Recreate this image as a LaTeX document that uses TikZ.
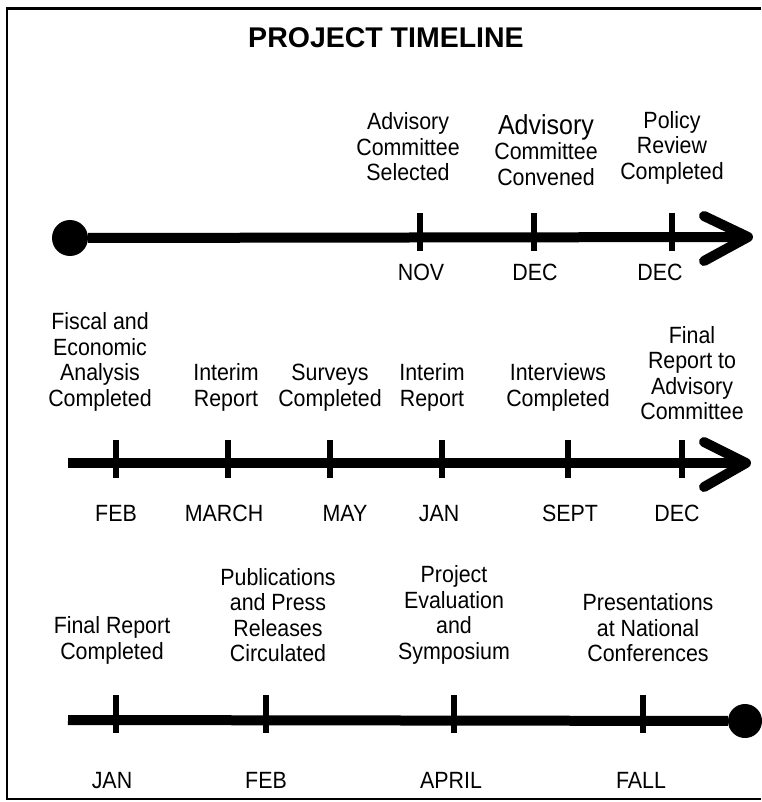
\documentclass[tikz,border=0pt]{standalone}
\usepackage{fontspec}
\setmainfont{Liberation Sans}
\newfontfamily\narrowfont[FakeStretch=0.91]{Liberation Sans}

\begin{document}
\begin{tikzpicture}[x=1pt, y=-1pt,
    event/.style={align=center, inner sep=0pt, font=\narrowfont\fontsize{23.5}{25.5}\selectfont},
    month/.style={inner sep=0pt, text height=16.8pt, text depth=0pt, font=\narrowfont\fontsize{23.5}{25.5}\selectfont},
    axis/.style={line width=10pt},
    tick/.style={line width=5.5pt},
    chevron/.style={line width=10pt, line cap=round, line join=round},
    dot/.style={circle, fill, inner sep=0pt, minimum size=36pt}]
    \useasboundingbox (0,0) rectangle (761,802);
    \draw[line width=2.5pt] (761,8.5) -- (7,8.5) -- (7,799) -- (761,799);

    \node[font=\bfseries\fontsize{28.5}{32}\selectfont] (title) at (386,38) {PROJECT TIMELINE};

    \node[dot] (s1) at (70,238) {};
    \coordinate (e1) at (748,237);
    \draw[axis] (s1) -- (e1);
    \draw[chevron] (e1) ++(-44,-21) -- (e1) -- +(-44,24);
    \foreach \x in {420,534,672}
        \draw[tick] (\x,213) -- (\x,251);
    \node[event] (selected) at (408,147) {Advisory\\Committee\\Selected};
    \node[event] (convened) at (546,150) {{\fontsize{27.5}{29}\selectfont Advisory}\\Committee\\Convened};
    \node[event] (policy) at (672,147.5) {Policy\\Review\\Completed};
    \node[month] (nov) at (421,272) {NOV};
    \node[month] (dec1) at (535,272) {DEC};
    \node[month] (dec2) at (660,272) {DEC};

    \coordinate (s2) at (68,463);
    \coordinate (e2) at (746,463);
    \draw[axis] (s2) -- (e2);
    \draw[chevron] (e2) ++(-42,-21) -- (e2) -- +(-42,24);
    \foreach \x in {116,228,330,442,568,682}
        \draw[tick] (\x,440) -- (\x,478);
    \node[event] (fiscal) at (100,362) {Fiscal and\\Economic\\Analysis\\Completed};
    \node[event] (interim1) at (226,387.5) {Interim\\Report};
    \node[event] (surveys) at (330,387.5) {Surveys\\Completed};
    \node[event] (interim2) at (432,387.5) {Interim\\Report};
    \node[event] (interviews) at (558,387.5) {Interviews\\Completed};
    \node[event] (finaladv) at (692,373) {Final\\Report to\\Advisory\\Committee};
    \node[month] (feb1) at (116,513) {FEB};
    \node[month] (march) at (224,513) {MARCH};
    \node[month] (may) at (345,513) {MAY};
    \node[month] (jan1) at (439,513) {JAN};
    \node[month] (sept) at (570,513) {SEPT};
    \node[month] (dec3) at (677,513) {DEC};

    \coordinate (s3) at (68,720);
    \node[dot, minimum size=34pt] (e3) at (745,721) {};
    \draw[axis] (s3) -- (e3);
    \foreach \x in {116,266,454,643}
        \draw[tick] (\x,695) -- (\x,733);
    \node[event] (final) at (112,640.5) {Final Report\\Completed};
    \node[event] (publications) at (278,615) {Publications\\and Press\\Releases\\Circulated};
    \node[event] (evaluation) at (454,615) {Project\\Evaluation\\and\\Symposium};
    \node[event] (presentations) at (648,628) {Presentations\\at National\\Conferences};
    \node[month] (jan2) at (112,780) {JAN};
    \node[month] (feb2) at (266,780) {FEB};
    \node[month] (april) at (451,780) {APRIL};
    \node[month] (fall) at (641,780) {FALL};
\end{tikzpicture}
\end{document}
